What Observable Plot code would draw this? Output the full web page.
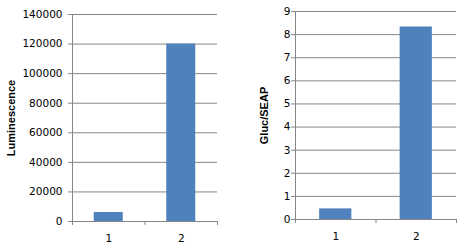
<!DOCTYPE html>
<html><head><meta charset="utf-8">
<script src="https://cdn.jsdelivr.net/npm/d3@7"></script>
<script src="https://cdn.jsdelivr.net/npm/@observablehq/plot@0.6"></script>
<style>
body{margin:0;background:#fff;}
#wrap{position:relative;width:469px;height:252px;}
#left{position:absolute;left:0;top:0;}
#right{position:absolute;left:235px;top:0;}
g[aria-label="y-axis label"] text{font-weight:bold;font-family:"Liberation Sans",Arial,sans-serif;font-size:11px;}
</style>
</head><body>
<div id="wrap"><div id="left"></div><div id="right"></div></div>
<script>
const categories = [1, 2];
const luminescence = [6100, 120000];
const glucSeap = [0.46, 8.33];
const lumTicks = [0, 20000, 40000, 60000, 80000, 100000, 120000, 140000];
const glucTicks = [0, 1, 2, 3, 4, 5, 6, 7, 8, 9];
const boundaries = [0.5, 1.5, 2.5];

const barColor = "#4F81BD";
const gridColor = "#868686";

function chart({values, ticks, label, width, marginLeft, marginRight, marginTop, marginBottom, tickPadding, labelOffset}) {
  const data = categories.map((c, i) => ({cat: c, v: values[i]}));
  return Plot.plot({
    width, height: 252,
    marginLeft, marginRight, marginTop, marginBottom,
    style: {fontFamily: "'DejaVu Sans', Verdana, sans-serif", fontSize: "10.5px", color: "black", background: "white"},
    x: {domain: [0.5, 2.5]},
    y: {domain: [0, ticks[ticks.length - 1]]},
    marks: [
      Plot.ruleY(ticks, {stroke: gridColor, insetLeft: -4}),
      Plot.ruleX([0.5], {stroke: gridColor}),
      Plot.rectY(data, {x1: d => d.cat - 0.2, x2: d => d.cat + 0.2, y: "v", fill: barColor}),
      Plot.ruleY([0], {stroke: gridColor, insetLeft: -4}),
      Plot.axisX(boundaries, {tickSize: 4, stroke: gridColor, tickFormat: () => ""}),
      Plot.axisX(categories, {tickSize: 0, tickPadding: 13, tickFormat: d => String(d), fill: "black"}),
      Plot.axisY(ticks, {tickSize: 0, tickPadding, fill: "black", tickFormat: d3.format("d"), label, labelAnchor: "center", labelOffset, labelArrow: "none"})
    ]
  });
}

document.getElementById("left").append(chart({
  values: luminescence, ticks: lumTicks, label: "Luminescence",
  width: 235, marginLeft: 72, marginRight: 18, marginTop: 14, marginBottom: 31, tickPadding: 10, labelOffset: 65
}));
document.getElementById("right").append(chart({
  values: glucSeap, ticks: glucTicks, label: "Gluc/SEAP",
  width: 234, marginLeft: 60, marginRight: 13, marginTop: 11, marginBottom: 33, tickPadding: 5, labelOffset: 35
}));
</script>
</body></html>
